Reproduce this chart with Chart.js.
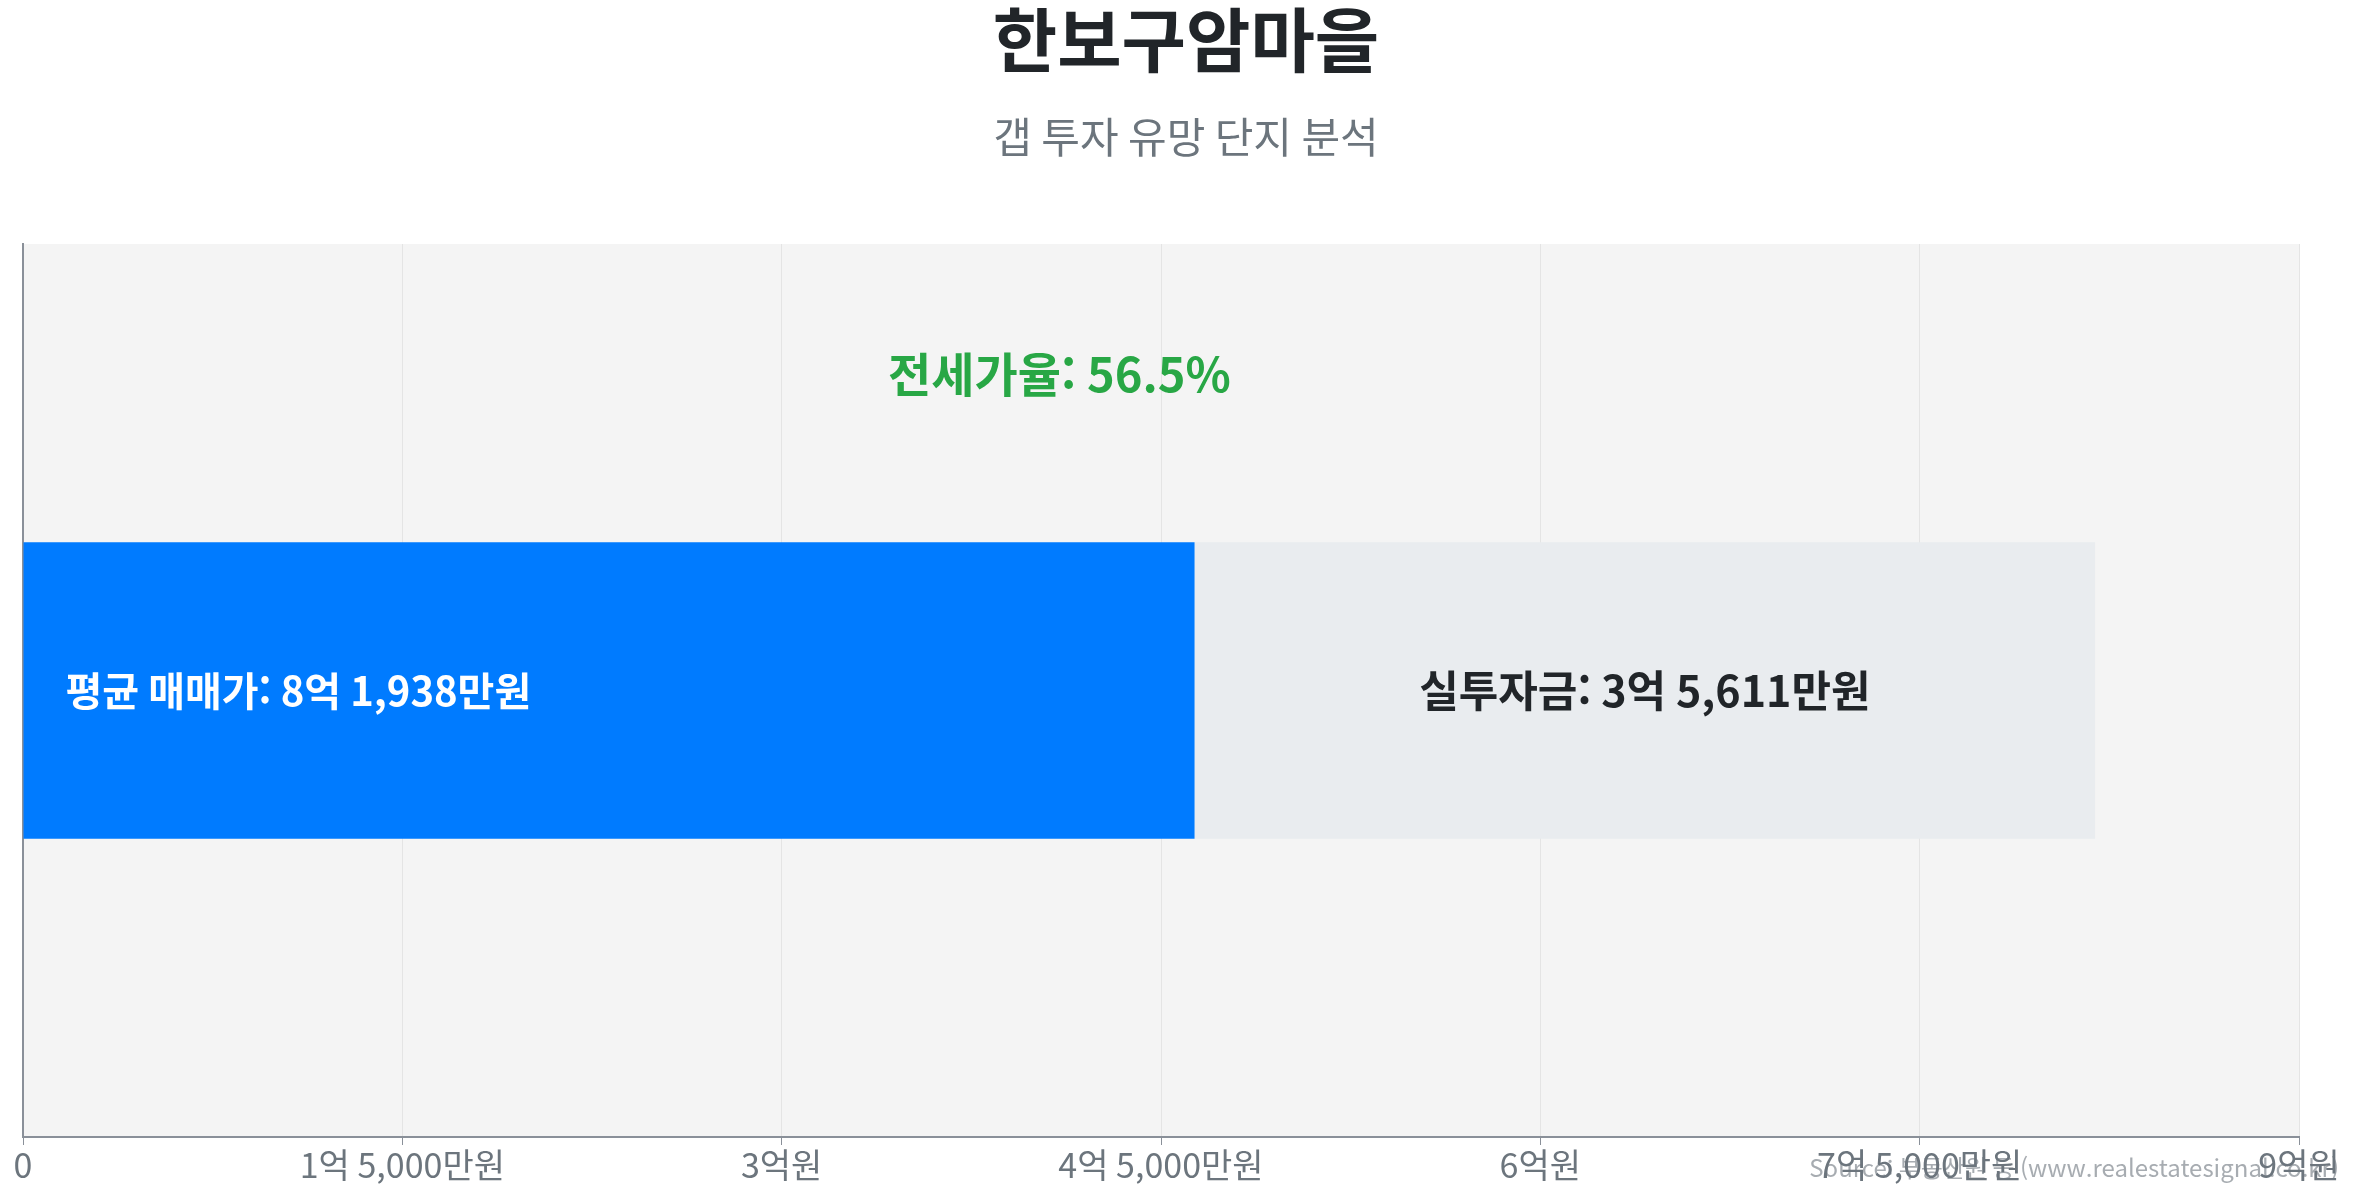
<!DOCTYPE html>
<html lang="ko">
<head>
<meta charset="utf-8">
<script src="https://cdn.jsdelivr.net/npm/chart.js@4/dist/chart.umd.min.js"></script>
<style>
  html, body { margin: 0; padding: 0; background: #fff; }
  #wrap { width: 2357px; height: 1200px; }
</style>
</head>
<body>
<div id="wrap"><canvas id="chart"></canvas></div>
<script>
// values in 만원
const categories = ["한보구암마을"];
const jeonseValues = [46327];
const gapValues = [35611];
const salePrice = 81938;
const jeonseRatio = 56.5;
const tickStep = 15000;
const axisMax = 90000;

const titleText = "한보구암마을";
const subtitleText = "갭 투자 유망 단지 분석";
const sourceText = "Source: 부동산원 등 (www.realestatesignal.co.kr)";

const FONT = "'Noto Sans CJK KR', 'Noto Sans', sans-serif";

function formatWon(v) {
    if (v === 0) return "0";
    const eok = Math.floor(v / 10000);
    const man = v % 10000;
    if (eok && man) return `${eok}억 ${man.toLocaleString("ko-KR")}만원`;
    if (eok) return `${eok}억원`;
    return `${man.toLocaleString("ko-KR")}만원`;
}

const plotBg = {
    id: "plotBg",
    beforeDraw(chart) {
        const {ctx, chartArea: a} = chart;
        ctx.save();
        ctx.fillStyle = "#f4f4f4";
        ctx.fillRect(a.left, a.top, a.right - a.left, a.bottom - a.top);
        ctx.restore();
    }
};

// title block sits centred on the page, not on the plot
const headings = {
    id: "headings",
    afterDraw(chart) {
        const ctx = chart.ctx;
        ctx.save();
        ctx.textAlign = "center";
        ctx.textBaseline = "middle";
        ctx.font = `bold 70px ${FONT}`;
        ctx.fillStyle = "#212529";
        ctx.fillText(titleText, 1186, 40);
        ctx.font = `42px ${FONT}`;
        ctx.fillStyle = "#6c757d";
        ctx.fillText(subtitleText, 1186, 137);
        ctx.restore();
    }
};

const barLabels = {
    id: "barLabels",
    afterDatasetsDraw(chart) {
        const ctx = chart.ctx;
        const blue = chart.getDatasetMeta(0).data[0];
        const gray = chart.getDatasetMeta(1).data[0];
        ctx.save();
        ctx.textBaseline = "middle";

        ctx.font = `bold 40px ${FONT}`;
        ctx.fillStyle = "#ffffff";
        ctx.textAlign = "left";
        ctx.fillText(`평균 매매가: ${formatWon(salePrice)}`, blue.base + 42, blue.y);

        ctx.font = `bold 43px ${FONT}`;
        ctx.fillStyle = "#212529";
        ctx.textAlign = "center";
        ctx.fillText(`실투자금: ${formatWon(gapValues[0])}`, (gray.base + gray.x) / 2, gray.y);

        ctx.font = `bold 47px ${FONT}`;
        ctx.fillStyle = "#28a745";
        ctx.fillText(`전세가율: ${jeonseRatio}%`, (blue.base + gray.x) / 2, blue.y - blue.height / 2 - 168);

        ctx.font = `24px ${FONT}`;
        ctx.fillStyle = "rgba(108,117,125,0.6)";
        ctx.textAlign = "right";
        ctx.fillText(sourceText, chart.width - 18, 1168);
        ctx.restore();
    }
};

new Chart(document.getElementById("chart"), {
    type: "bar",
    data: {
        labels: categories,
        datasets: [
            { label: "전세가", data: jeonseValues, backgroundColor: "#007bff", barPercentage: 1, categoryPercentage: 0.332 },
            { label: "실투자금", data: gapValues, backgroundColor: "#e9ecef", barPercentage: 1, categoryPercentage: 0.332 }
        ]
    },
    options: {
        indexAxis: "y",
        responsive: true, maintainAspectRatio: false,
        animation: false,
        layout: { padding: { left: 23, right: 58, top: 244, bottom: 15 } },
        plugins: {
            legend: { display: false },
            tooltip: { enabled: false },
            title: { display: false },
            subtitle: { display: false }
        },
        scales: {
            x: {
                stacked: true, min: 0, max: axisMax,
                ticks: {
                    stepSize: tickStep, color: "#6c757d", padding: 3,
                    font: { family: FONT, size: 34, lineHeight: 1 },
                    maxRotation: 0, autoSkip: false,
                    callback: v => formatWon(v)
                },
                grid: { color: "#e4e4e4", tickColor: "#8a9099", tickLength: 8 },
                border: { color: "#8a9099", width: 2 }
            },
            y: {
                stacked: true,
                ticks: { display: false },
                grid: { display: false, drawTicks: false },
                border: { color: "#8a9099", width: 2 }
            }
        }
    },
    plugins: [plotBg, headings, barLabels]
});
</script>
</body>
</html>
